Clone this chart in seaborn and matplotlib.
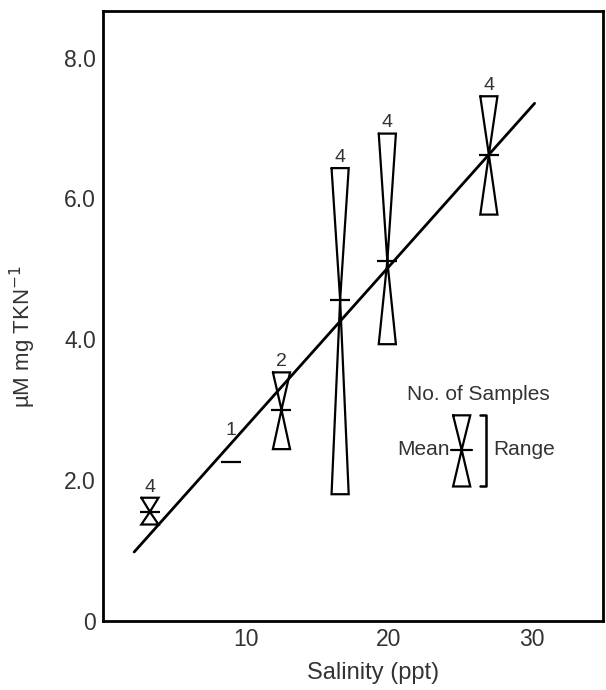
import numpy as np
import pandas as pd
import seaborn as sns
import matplotlib.pyplot as plt

# === Data ===
salinity = [3.3, 9.0, 12.5, 16.6, 19.9, 27.0]
tkn_mean = [1.55, 2.26, 3.00, 4.56, 5.11, 6.62]
tkn_max = [1.75, 2.26, 3.53, 6.43, 6.92, 7.45]
tkn_min = [1.37, 2.26, 2.44, 1.80, 3.93, 5.77]
n_samples = [4, 1, 2, 4, 4, 4]

# regression line end points
fit_x = [2.2, 30.2]
fit_y = [0.98, 7.35]

# key glyph (No. of Samples / Mean / Range)
key_x = 25.1
key_mean, key_max, key_min = 2.43, 2.92, 1.91

df = pd.DataFrame({"salinity": salinity, "mean": tkn_mean,
                   "max": tkn_max, "min": tkn_min, "n": n_samples})

sns.set_style("white")
plt.rcParams['font.family'] = ['Liberation Sans', 'DejaVu Sans']
txt_color = "#333333"

fig = plt.figure(figsize=(6.06, 6.90), dpi=100)
ax = fig.add_axes([0.1695, 0.10, 0.826, 0.884])

half_w = 0.6


def bowtie(ax, x, mid, hi, lo, w=half_w):
    xs = [x - w, x + w, x, x + w, x - w, x, x - w]
    ys = [hi, hi, mid, lo, lo, mid, hi]
    ax.plot(xs, ys, color="black", lw=1.6, solid_joinstyle="miter")


# regression line
sns.lineplot(x=fit_x, y=fit_y, color="black", lw=2.0, ax=ax)

# range glyphs
for _, r in df.iterrows():
    if r["max"] > r["min"]:
        bowtie(ax, r["salinity"], r["mean"], r["max"], r["min"])
    off = 0.03 if r["max"] > r["min"] else 0.33
    ax.text(r["salinity"], r["max"] + off, f"{int(r['n'])}", ha="center",
            va="bottom", fontsize=14, color=txt_color)

# mean ticks
sns.scatterplot(data=df, x="salinity", y="mean", marker="_", s=220,
                linewidth=1.6, color="black", ax=ax, zorder=3)

# key
bowtie(ax, key_x, key_mean, key_max, key_min)
ax.plot([key_x - 0.75, key_x + 0.75], [key_mean, key_mean], color="black", lw=1.6)
ax.plot([26.4, 26.8, 26.8, 26.4], [key_max, key_max, key_min, key_min],
        color="black", lw=1.8)
ax.text(26.3, 3.21, "No. of Samples", ha="center", va="center",
        fontsize=15, color=txt_color)
ax.text(24.25, key_mean, "Mean", ha="right", va="center", fontsize=15, color=txt_color)
ax.text(27.3, key_mean, "Range", ha="left", va="center", fontsize=15, color=txt_color)

# axes
ax.set_xlim(0, 35)
ax.set_ylim(0, 8.66)
ax.set_xticks([10, 20, 30])
ax.set_yticks([0, 2, 4, 6, 8])
ax.set_yticklabels(["0", "2.0", "4.0", "6.0", "8.0"])
ax.tick_params(direction="in", length=10, width=2, labelsize=16.5,
               colors="black", labelcolor=txt_color, pad=5)
for s in ax.spines.values():
    s.set_linewidth(2)
    s.set_color("black")

ax.set_xlabel("Salinity (ppt)", fontsize=17, color=txt_color)
ax.set_ylabel("µM mg TKN$^{-1}$", fontsize=16, color=txt_color)
ax.xaxis.set_label_coords(0.54, -0.068)
ax.yaxis.set_label_coords(-0.13, 0.467)

plt.savefig("out.png", dpi=100)
